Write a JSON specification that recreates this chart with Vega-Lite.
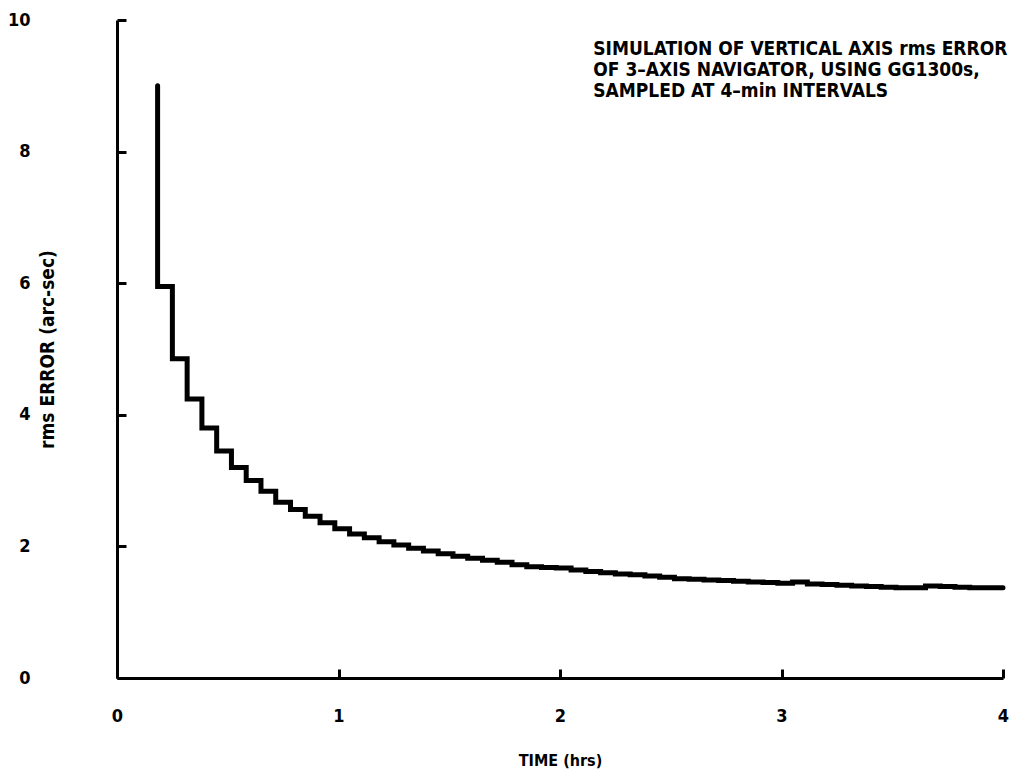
{
  "$schema": "https://vega.github.io/schema/vega-lite/v6.json",
  "width": 886,
  "height": 658,
  "autosize": "none",
  "padding": {"left": 117, "top": 20, "right": 23, "bottom": 92},
  "background": "white",
  "config": {
    "view": {"stroke": null},
    "font": "DejaVu Sans Condensed"
  },
  "layer": [
    {
      "data": {
        "values": [
          {"min": 11, "err": 9.0},
          {"min": 11, "err": 5.95},
          {"min": 15, "err": 4.85},
          {"min": 19, "err": 4.24},
          {"min": 23, "err": 3.80},
          {"min": 27, "err": 3.45},
          {"min": 31, "err": 3.20},
          {"min": 35, "err": 3.00},
          {"min": 39, "err": 2.84},
          {"min": 43, "err": 2.67},
          {"min": 47, "err": 2.56},
          {"min": 51, "err": 2.46},
          {"min": 55, "err": 2.36},
          {"min": 59, "err": 2.27},
          {"min": 63, "err": 2.19},
          {"min": 67, "err": 2.13},
          {"min": 71, "err": 2.07},
          {"min": 75, "err": 2.02},
          {"min": 79, "err": 1.97},
          {"min": 83, "err": 1.93},
          {"min": 87, "err": 1.89},
          {"min": 91, "err": 1.85},
          {"min": 95, "err": 1.82},
          {"min": 99, "err": 1.79},
          {"min": 103, "err": 1.76},
          {"min": 107, "err": 1.72},
          {"min": 111, "err": 1.69},
          {"min": 115, "err": 1.68},
          {"min": 119, "err": 1.67},
          {"min": 123, "err": 1.64},
          {"min": 127, "err": 1.62},
          {"min": 131, "err": 1.60},
          {"min": 135, "err": 1.58},
          {"min": 139, "err": 1.57},
          {"min": 143, "err": 1.55},
          {"min": 147, "err": 1.53},
          {"min": 151, "err": 1.51},
          {"min": 155, "err": 1.50},
          {"min": 159, "err": 1.49},
          {"min": 163, "err": 1.48},
          {"min": 167, "err": 1.47},
          {"min": 171, "err": 1.46},
          {"min": 175, "err": 1.45},
          {"min": 179, "err": 1.44},
          {"min": 183, "err": 1.46},
          {"min": 187, "err": 1.43},
          {"min": 191, "err": 1.42},
          {"min": 195, "err": 1.41},
          {"min": 199, "err": 1.40},
          {"min": 203, "err": 1.39},
          {"min": 207, "err": 1.38},
          {"min": 211, "err": 1.37},
          {"min": 215, "err": 1.37},
          {"min": 219, "err": 1.40},
          {"min": 223, "err": 1.39},
          {"min": 227, "err": 1.38},
          {"min": 231, "err": 1.37},
          {"min": 235, "err": 1.37},
          {"min": 239, "err": 1.37},
          {"min": 240, "err": 1.37}
        ]
      },
      "mark": {"type": "line", "interpolate": "step-after", "color": "black", "strokeWidth": 5, "strokeCap": "round", "strokeJoin": "miter"},
      "encoding": {
        "x": {
          "field": "min", "type": "quantitative",
          "scale": {"domain": [0, 240], "nice": false},
          "axis": {
            "values": [0, 60, 120, 180, 240],
            "labelExpr": "datum.value / 60",
            "title": "TIME (hrs)",
            "titleX": 443, "titleY": 82, "titleBaseline": "middle", "titleAlign": "center",
            "titleFont": "DejaVu Sans Condensed", "titleFontSize": 16, "titleFontWeight": "bold", "titleColor": "black",
            "domainColor": "black", "domainWidth": 3,
            "tickColor": "black", "tickWidth": 3, "tickSize": -9,
            "labelFont": "DejaVu Sans Condensed", "labelFontSize": 18, "labelFontWeight": "bold", "labelColor": "black",
            "labelPadding": 47, "labelBaseline": "middle", "labelFlush": false,
            "grid": false
          }
        },
        "y": {
          "field": "err", "type": "quantitative",
          "scale": {"domain": [0, 10], "nice": false},
          "axis": {
            "values": [0, 2, 4, 6, 8, 10],
            "format": "d",
            "title": "rms ERROR (arc-sec)",
            "titleX": -70, "titleY": 329, "titleAngle": -90, "titleBaseline": "middle", "titleAlign": "center",
            "titleFont": "DejaVu Sans Condensed", "titleFontSize": 19, "titleFontWeight": "bold", "titleColor": "black",
            "domainColor": "black", "domainWidth": 3,
            "tickColor": "black", "tickWidth": 3, "tickSize": -9,
            "labelFont": "DejaVu Sans Condensed", "labelFontSize": 18, "labelFontWeight": "bold", "labelColor": "black",
            "labelPadding": 96, "labelAlign": "right", "labelFlush": false,
            "grid": false
          }
        }
      }
    },
    {
      "data": {
        "values": [
          {"min": 129, "err": 9.47, "label": "SIMULATION OF VERTICAL AXIS rms ERROR"},
          {"min": 129, "err": 9.15, "label": "OF 3–AXIS NAVIGATOR, USING  GG1300s,"},
          {"min": 129, "err": 8.83, "label": "SAMPLED AT 4–min INTERVALS"}
        ]
      },
      "mark": {"type": "text", "align": "left", "baseline": "alphabetic", "font": "DejaVu Sans Condensed", "fontSize": 19, "fontWeight": "bold", "color": "black"},
      "encoding": {
        "x": {"field": "min", "type": "quantitative"},
        "y": {"field": "err", "type": "quantitative"},
        "text": {"field": "label"}
      }
    }
  ]
}
